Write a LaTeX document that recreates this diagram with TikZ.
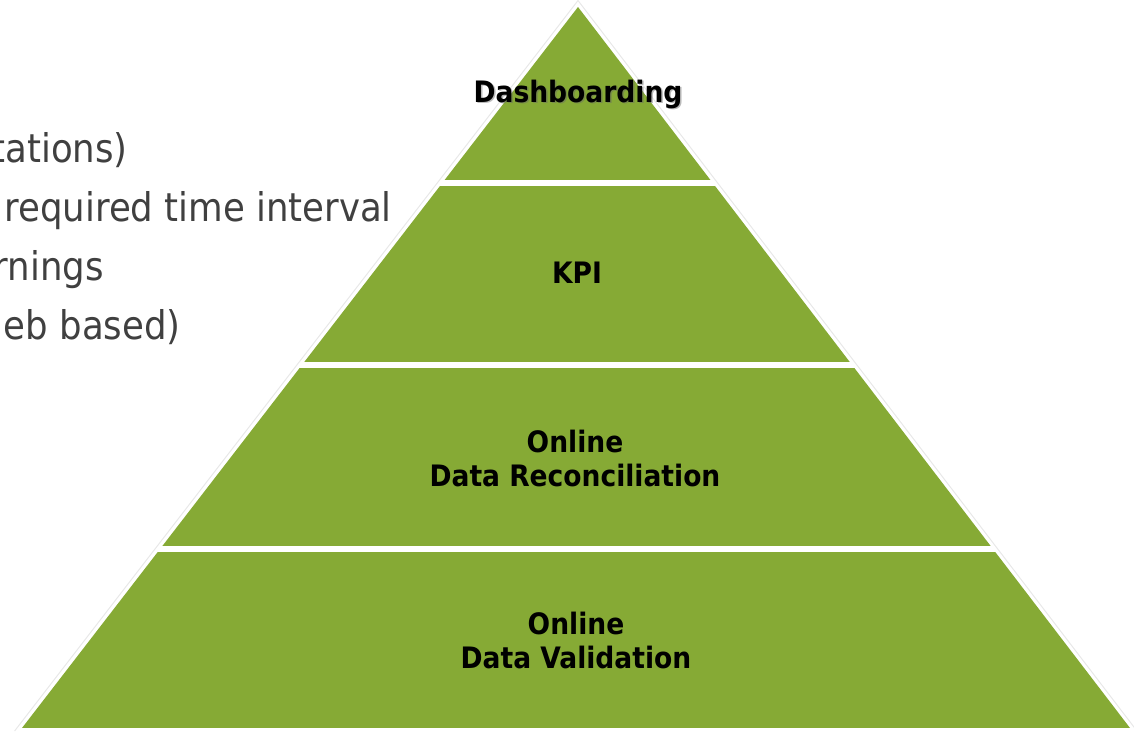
\documentclass[tikz,border=0pt]{standalone}
\usepackage{fontspec}
\setmainfont{DejaVu Sans}
\newfontfamily\narrowfont{DejaVu Sans Condensed}
\definecolor{leaf}{RGB}{134,170,53}
\definecolor{ink}{RGB}{64,64,64}

\begin{document}
\begin{tikzpicture}[x=1pt,y=-1pt,
  layer/.style={fill=leaf},
  rim/.style={draw=gray!18,line width=1pt},
  tier/.style={font=\narrowfont\bfseries\fontsize{29.5}{34}\selectfont,align=center,text=black,inner sep=0pt,anchor=base},
  note/.style={font=\narrowfont\fontsize{39.5}{44}\selectfont,text=ink,anchor=base east,inner sep=0pt}]
\useasboundingbox (0,0) rectangle (1134,734);
\coordinate (apex) at (578,7);
\coordinate (bl) at (22,728);
\coordinate (br) at (1130,728);
\coordinate (rimtop) at (578,0.5);
\coordinate (rimleft) at (14.6,731);
\coordinate (rimright) at (1137,731);
\draw[rim] (rimleft) -- (rimtop) -- (rimright);
\begin{scope}
\clip (apex) -- (bl) -- (br) -- cycle;
\foreach \ya/\yb in {7/180,186/362,368/546,552/728}
  \fill[layer] (0,\ya) rectangle (1134,\yb);
\end{scope}
\node[tier,text=black!60,opacity=.45] (dashshade) at (579.5,103.5) {Dashboarding};
\node[tier] (dash) at (578,102) {Dashboarding};
\node[tier] (kpi) at (577,283) {KPI};
\node[tier,anchor=center] (recon) at (575,458) {Online\\Data Reconciliation};
\node[tier,anchor=center] (valid) at (576,640) {Online\\Data Validation};
\node[note] (note1) at (128,162) {tations)};
\node[note] (note2) at (392,221) {required time interval};
\node[note] (note3) at (104,280) {rnings};
\node[note] (note4) at (181,339) {eb based)};
\end{tikzpicture}
\end{document}
